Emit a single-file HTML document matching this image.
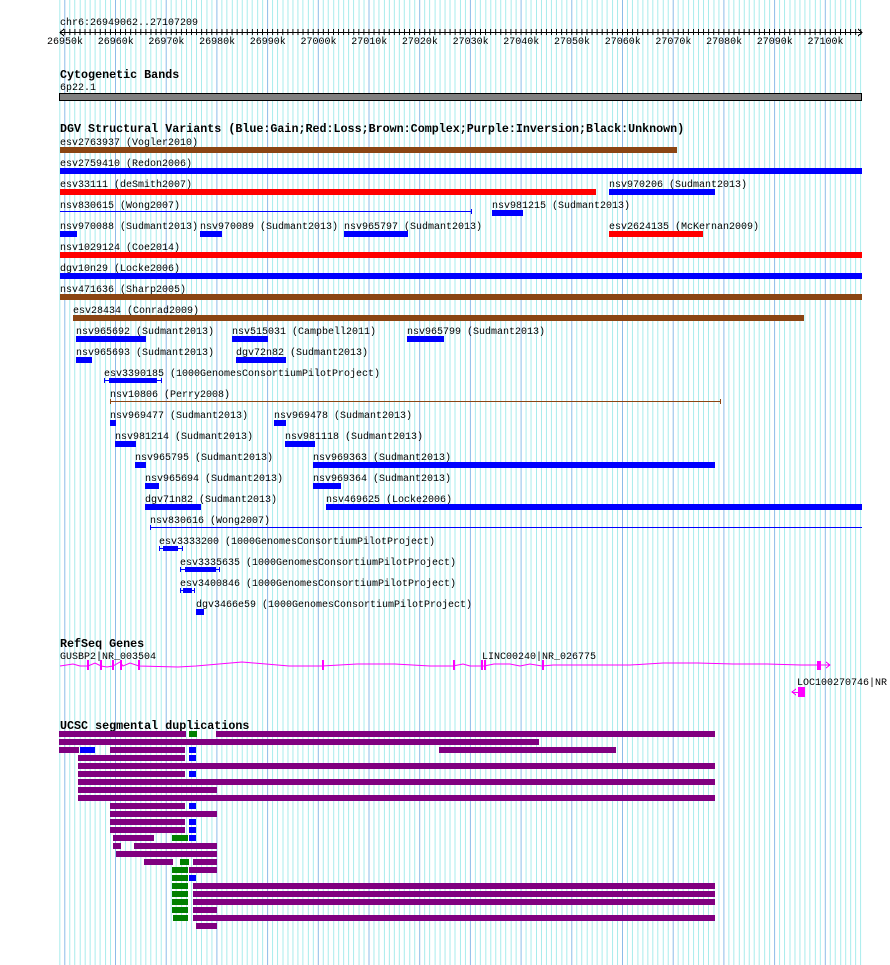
<!DOCTYPE html>
<html><head><meta charset="utf-8"><style>
html,body{margin:0;padding:0;background:#fff}
svg{display:block}
text{font-family:"Liberation Mono",monospace;font-size:10px;fill:#000}
.h{font-weight:bold;font-size:11.7px}
</style></head><body>
<svg width="890" height="965" viewBox="0 0 890 965" shape-rendering="crispEdges">
<defs>
<pattern id="g" patternUnits="userSpaceOnUse" x="64.3" y="0" width="50.7" height="10">
<rect x="0" y="0" width="1" height="10" fill="#8cbce8"/>
<rect x="5.07" width="1" height="10" fill="#a8ecec"/>
<rect x="10.14" width="1" height="10" fill="#a8ecec"/>
<rect x="15.21" width="1" height="10" fill="#a8ecec"/>
<rect x="20.28" width="1" height="10" fill="#a8ecec"/>
<rect x="25.35" width="1" height="10" fill="#a8ecec"/>
<rect x="30.42" width="1" height="10" fill="#a8ecec"/>
<rect x="35.49" width="1" height="10" fill="#a8ecec"/>
<rect x="40.56" width="1" height="10" fill="#a8ecec"/>
<rect x="45.63" width="1" height="10" fill="#a8ecec"/>
</pattern>
<pattern id="t" patternUnits="userSpaceOnUse" x="64.3" y="0" width="5.07" height="10">
<rect x="0" y="0" width="1" height="10" fill="#000"/>
</pattern>
</defs>
<rect x="59" y="0" width="805" height="965" fill="url(#g)"/>
<!-- ruler -->
<text x="60" y="25">chr6:26949062..27107209</text>
<rect x="60" y="32" width="802" height="1" fill="#000"/>
<rect x="60" y="29" width="802" height="6" fill="url(#t)"/>
<path d="M64 29 L60 32.5 L64 36 M858 29 L862 32.5 L858 36" stroke="#000" fill="none"/>
<g text-anchor="middle">
<text x="65" y="44">26950k</text><text x="115.7" y="44">26960k</text><text x="166.4" y="44">26970k</text><text x="217.1" y="44">26980k</text><text x="267.8" y="44">26990k</text><text x="318.5" y="44">27000k</text><text x="369.2" y="44">27010k</text><text x="419.9" y="44">27020k</text><text x="470.6" y="44">27030k</text><text x="521.3" y="44">27040k</text><text x="572" y="44">27050k</text><text x="622.7" y="44">27060k</text><text x="673.4" y="44">27070k</text><text x="724.1" y="44">27080k</text><text x="774.8" y="44">27090k</text><text x="825.5" y="44">27100k</text>
</g>
<text class="h" x="60" y="78">Cytogenetic Bands</text>
<text x="60" y="90">6p22.1</text>
<rect x="59.5" y="93.5" width="802" height="7" fill="#808080" stroke="#000"/>
<text class="h" x="60" y="132">DGV Structural Variants (Blue:Gain;Red:Loss;Brown:Complex;Purple:Inversion;Black:Unknown)</text>
<g>
<text x="60" y="145">esv2763937 (Vogler2010)</text><rect x="60" y="147" width="617" height="6" fill="#8b4513"/>
<text x="60" y="166">esv2759410 (Redon2006)</text><rect x="60" y="168" width="802" height="6" fill="#0000ff"/>
<text x="60" y="187">esv33111 (deSmith2007)</text><rect x="60" y="189" width="536" height="6" fill="#ff0000"/>
<text x="609" y="187">nsv970206 (Sudmant2013)</text><rect x="609" y="189" width="106" height="6" fill="#0000ff"/>
<text x="60" y="208">nsv830615 (Wong2007)</text><rect x="60" y="211" width="412" height="1" fill="#0000ff"/><rect x="471" y="209" width="1" height="5" fill="#0000ff"/>
<text x="492" y="208">nsv981215 (Sudmant2013)</text><rect x="492" y="210" width="31" height="6" fill="#0000ff"/>
<text x="60" y="229">nsv970088 (Sudmant2013)</text><rect x="60" y="231" width="17" height="6" fill="#0000ff"/>
<text x="200" y="229">nsv970089 (Sudmant2013)</text><rect x="200" y="231" width="22" height="6" fill="#0000ff"/>
<text x="344" y="229">nsv965797 (Sudmant2013)</text><rect x="344" y="231" width="64" height="6" fill="#0000ff"/>
<text x="609" y="229">esv2624135 (McKernan2009)</text><rect x="609" y="231" width="94" height="6" fill="#ff0000"/>
<text x="60" y="250">nsv1029124 (Coe2014)</text><rect x="60" y="252" width="802" height="6" fill="#ff0000"/>
<text x="60" y="271">dgv10n29 (Locke2006)</text><rect x="60" y="273" width="802" height="6" fill="#0000ff"/>
<text x="60" y="292">nsv471636 (Sharp2005)</text><rect x="60" y="294" width="802" height="6" fill="#8b4513"/>
<text x="73" y="313">esv28434 (Conrad2009)</text><rect x="73" y="315" width="731" height="6" fill="#8b4513"/>
<text x="76" y="334">nsv965692 (Sudmant2013)</text><rect x="76" y="336" width="70" height="6" fill="#0000ff"/>
<text x="232" y="334">nsv515031 (Campbell2011)</text><rect x="232" y="336" width="36" height="6" fill="#0000ff"/>
<text x="407" y="334">nsv965799 (Sudmant2013)</text><rect x="407" y="336" width="37" height="6" fill="#0000ff"/>
<text x="76" y="355">nsv965693 (Sudmant2013)</text><rect x="76" y="357" width="16" height="6" fill="#0000ff"/>
<text x="236" y="355">dgv72n82 (Sudmant2013)</text><rect x="236" y="357" width="50" height="6" fill="#0000ff"/>
<text x="104" y="376">esv3390185 (1000GenomesConsortiumPilotProject)</text><rect x="104" y="380" width="58" height="1" fill="#0000ff"/><rect x="104" y="378" width="1" height="5" fill="#0000ff"/><rect x="161" y="378" width="1" height="5" fill="#0000ff"/><rect x="109" y="378" width="48" height="5" fill="#0000ff"/>
<text x="110" y="397">nsv10806 (Perry2008)</text><rect x="110" y="401" width="611" height="1" fill="#8b4513"/><rect x="110" y="399" width="1" height="5" fill="#8b4513"/><rect x="720" y="399" width="1" height="5" fill="#8b4513"/>
<text x="110" y="418">nsv969477 (Sudmant2013)</text><rect x="110" y="420" width="6" height="6" fill="#0000ff"/>
<text x="274" y="418">nsv969478 (Sudmant2013)</text><rect x="274" y="420" width="12" height="6" fill="#0000ff"/>
<text x="115" y="439">nsv981214 (Sudmant2013)</text><rect x="115" y="441" width="21" height="6" fill="#0000ff"/>
<text x="285" y="439">nsv981118 (Sudmant2013)</text><rect x="285" y="441" width="30" height="6" fill="#0000ff"/>
<text x="135" y="460">nsv965795 (Sudmant2013)</text><rect x="135" y="462" width="11" height="6" fill="#0000ff"/>
<text x="313" y="460">nsv969363 (Sudmant2013)</text><rect x="313" y="462" width="402" height="6" fill="#0000ff"/>
<text x="145" y="481">nsv965694 (Sudmant2013)</text><rect x="145" y="483" width="14" height="6" fill="#0000ff"/>
<text x="313" y="481">nsv969364 (Sudmant2013)</text><rect x="313" y="483" width="28" height="6" fill="#0000ff"/>
<text x="145" y="502">dgv71n82 (Sudmant2013)</text><rect x="145" y="504" width="56" height="6" fill="#0000ff"/>
<text x="326" y="502">nsv469625 (Locke2006)</text><rect x="326" y="504" width="536" height="6" fill="#0000ff"/>
<text x="150" y="523">nsv830616 (Wong2007)</text><rect x="150" y="527" width="712" height="1" fill="#0000ff"/><rect x="150" y="525" width="1" height="5" fill="#0000ff"/>
<text x="159" y="544">esv3333200 (1000GenomesConsortiumPilotProject)</text><rect x="159" y="548" width="24" height="1" fill="#0000ff"/><rect x="159" y="546" width="1" height="5" fill="#0000ff"/><rect x="182" y="546" width="1" height="5" fill="#0000ff"/><rect x="163" y="546" width="15" height="5" fill="#0000ff"/>
<text x="180" y="565">esv3335635 (1000GenomesConsortiumPilotProject)</text><rect x="180" y="569" width="40" height="1" fill="#0000ff"/><rect x="180" y="567" width="1" height="5" fill="#0000ff"/><rect x="219" y="567" width="1" height="5" fill="#0000ff"/><rect x="185" y="567" width="31" height="5" fill="#0000ff"/>
<text x="180" y="586">esv3400846 (1000GenomesConsortiumPilotProject)</text><rect x="180" y="590" width="15" height="1" fill="#0000ff"/><rect x="180" y="588" width="1" height="5" fill="#0000ff"/><rect x="194" y="588" width="1" height="5" fill="#0000ff"/><rect x="183" y="588" width="9" height="5" fill="#0000ff"/>
<text x="196" y="607">dgv3466e59 (1000GenomesConsortiumPilotProject)</text><rect x="196" y="609" width="8" height="6" fill="#0000ff"/>
</g>
<!-- RefSeq -->
<text class="h" x="60" y="647">RefSeq Genes</text>
<text x="60" y="659">GUSBP2|NR_003504</text>
<text x="482" y="659">LINC00240|NR_026775</text>
<polyline shape-rendering="auto" fill="none" stroke="#ff00ff" stroke-width="1" points="60,666 73,664 80,666 88,666 95,663 101,666 107,667 113,666 120,662 123,666 130,663 139,666 178,667 196,666 219,664 242,662 266,664 289,666 312,666 322,666 357,664 395,664 430,666 453,666 463,664 470,666 481,666 484,666 494,664 510,664 520,666 530,664 542,666 553,665 630,665 663,663 698,663 733,664 767,664 801,665 820,665 830,665"/>
<g fill="#ff00ff">
<rect x="87" y="660" width="2" height="10"/><rect x="100" y="660" width="2" height="10"/><rect x="112" y="660" width="2" height="10"/><rect x="120" y="660" width="2" height="10"/><rect x="138" y="660" width="2" height="10"/>
<rect x="322" y="660" width="2" height="10"/><rect x="453" y="660" width="2" height="10"/><rect x="481" y="660" width="2" height="10"/><rect x="484" y="660" width="2" height="10"/><rect x="542" y="660" width="2" height="10"/>
<rect x="817" y="661" width="4" height="9"/>
<rect x="798" y="687" width="7" height="10"/><rect x="792" y="692" width="6" height="1"/>
</g>
<path d="M826 662 L830 665 L826 668 M796 689 L792 692 L796 695" stroke="#ff00ff" fill="none"/>
<text x="797" y="685">LOC100270746|NR</text>
<!-- seg dups -->
<text class="h" x="60" y="729">UCSC segmental duplications</text>
<g>
<rect x="59" y="731" width="127" height="6" fill="#800080"/><rect x="189" y="731" width="8" height="6" fill="#008000"/><rect x="216" y="731" width="499" height="6" fill="#800080"/>
<rect x="59" y="739" width="480" height="6" fill="#800080"/>
<rect x="59" y="747" width="20" height="6" fill="#800080"/><rect x="80" y="747" width="15" height="6" fill="#0000ff"/><rect x="110" y="747" width="75" height="6" fill="#800080"/><rect x="189" y="747" width="7" height="6" fill="#0000ff"/><rect x="439" y="747" width="177" height="6" fill="#800080"/>
<rect x="78" y="755" width="107" height="6" fill="#800080"/><rect x="189" y="755" width="7" height="6" fill="#0000ff"/>
<rect x="78" y="763" width="637" height="6" fill="#800080"/>
<rect x="78" y="771" width="107" height="6" fill="#800080"/><rect x="189" y="771" width="7" height="6" fill="#0000ff"/>
<rect x="78" y="779" width="637" height="6" fill="#800080"/>
<rect x="78" y="787" width="139" height="6" fill="#800080"/>
<rect x="78" y="795" width="637" height="6" fill="#800080"/>
<rect x="110" y="803" width="75" height="6" fill="#800080"/><rect x="189" y="803" width="7" height="6" fill="#0000ff"/>
<rect x="110" y="811" width="107" height="6" fill="#800080"/>
<rect x="110" y="819" width="75" height="6" fill="#800080"/><rect x="189" y="819" width="7" height="6" fill="#0000ff"/>
<rect x="110" y="827" width="75" height="6" fill="#800080"/><rect x="189" y="827" width="7" height="6" fill="#0000ff"/>
<rect x="113" y="835" width="41" height="6" fill="#800080"/><rect x="172" y="835" width="16" height="6" fill="#008000"/><rect x="189" y="835" width="7" height="6" fill="#0000ff"/>
<rect x="113" y="843" width="8" height="6" fill="#800080"/><rect x="134" y="843" width="83" height="6" fill="#800080"/>
<rect x="116" y="851" width="101" height="6" fill="#800080"/>
<rect x="144" y="859" width="29" height="6" fill="#800080"/><rect x="180" y="859" width="9" height="6" fill="#008000"/><rect x="193" y="859" width="24" height="6" fill="#800080"/>
<rect x="172" y="867" width="16" height="6" fill="#008000"/><rect x="189" y="867" width="28" height="6" fill="#800080"/>
<rect x="172" y="875" width="16" height="6" fill="#008000"/><rect x="189" y="875" width="7" height="6" fill="#0000ff"/>
<rect x="172" y="883" width="16" height="6" fill="#008000"/><rect x="193" y="883" width="522" height="6" fill="#800080"/>
<rect x="172" y="891" width="16" height="6" fill="#008000"/><rect x="193" y="891" width="522" height="6" fill="#800080"/>
<rect x="172" y="899" width="16" height="6" fill="#008000"/><rect x="193" y="899" width="522" height="6" fill="#800080"/>
<rect x="172" y="907" width="16" height="6" fill="#008000"/><rect x="193" y="907" width="24" height="6" fill="#800080"/>
<rect x="173" y="915" width="15" height="6" fill="#008000"/><rect x="193" y="915" width="522" height="6" fill="#800080"/>
<rect x="196" y="923" width="21" height="6" fill="#800080"/>
</g>
</svg>
</body></html>
